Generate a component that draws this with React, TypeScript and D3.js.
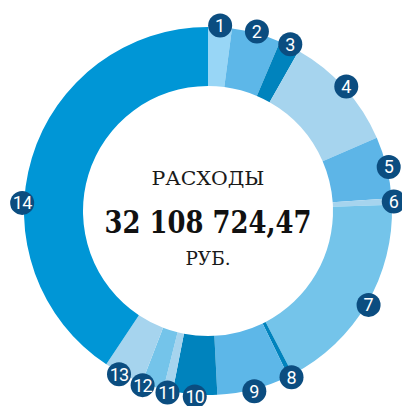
import React from "react";
import * as d3 from "d3";

// Shares of total expenses (percent)
const labels = ["1", "2", "3", "4", "5", "6", "7", "8", "9", "10", "11", "12", "13", "14"];
const shares = [2.08, 4.31, 1.81, 10.28, 5.42, 0.56, 17.92, 0.42, 6.39, 3.89, 0.83, 1.94, 3.47, 40.68];
const colors = [
  "#98d6f6", "#5db7e8", "#0083bd", "#a6d4ee", "#5db5e7", "#a6d4ee", "#74c4ea",
  "#0083bd", "#5db7e8", "#0083bd", "#a6d4ee", "#74c4ea", "#a6d4ee", "#0096d6",
];
const titleText = "РАСХОДЫ";
const totalText = "32 108 724,47";
const unitText = "РУБ.";

const W = 402;
const H = 406;
const cx = 208;
const cy = 211;
const outerR = 184;
const innerR = 125;
const badgeR = 12;
const badgeOrbit = 186;
const minSep = (8 * Math.PI) / 180;
const labelOverride: Record<string, number> = { "14": (272.5 * Math.PI) / 180 };

export default function App() {
  const data = labels.map((l, i) => ({ label: l, value: shares[i], color: colors[i] }));
  const pie = d3
    .pie<any>()
    .sort(null)
    .value((d) => d.value)
    .startAngle(0)
    .endAngle(2 * Math.PI);
  const arcs = pie(data);
  const arc = d3.arc<any>().innerRadius(innerR).outerRadius(outerR);

  // badge angles: segment mid-angle, pushed apart when too close
  const angles: number[] = [];
  arcs.forEach((a, i) => {
    let ang = (a.startAngle + a.endAngle) / 2;
    if (i > 0 && ang - angles[i - 1] < minSep) ang = angles[i - 1] + minSep;
    if (labelOverride[a.data.label] !== undefined) ang = labelOverride[a.data.label];
    angles.push(ang);
  });

  return (
    <svg
      width={W}
      height={H}
      style={{ position: "absolute", left: 0, top: 0, background: "#fff" }}
    >
      <g transform={`translate(${cx},${cy})`}>
        {arcs.map((a, i) => (
          <path key={i} d={arc(a) as string} fill={a.data.color} />
        ))}
        {arcs.map((a, i) => {
          const x = badgeOrbit * Math.sin(angles[i]);
          const y = -badgeOrbit * Math.cos(angles[i]);
          return (
            <g key={"b" + i} transform={`translate(${x},${y})`}>
              <circle r={badgeR} fill="#0b4d80" />
              <text
                y={6.5}
                textAnchor="middle"
                fill="#fff"
                fontFamily="Roboto, 'Noto Sans', sans-serif"
                fontSize={18}
                letterSpacing={a.data.label.length > 1 ? -0.8 : 0}
              >
                {a.data.label}
              </text>
            </g>
          );
        })}
        <text
          x={0}
          y={-26}
          textAnchor="middle"
          fill="#1a1a1a"
          fontFamily="'DejaVu Serif', serif"
          fontSize={19}
          textLength={113}
          lengthAdjust="spacingAndGlyphs"
        >
          {titleText}
        </text>
        <text
          x={0}
          y={22}
          textAnchor="middle"
          fill="#111"
          fontFamily="'DejaVu Serif', serif"
          fontWeight="bold"
          fontSize={31}
          textLength={207}
          lengthAdjust="spacingAndGlyphs"
        >
          {totalText}
        </text>
        <text
          x={0}
          y={54}
          textAnchor="middle"
          fill="#1a1a1a"
          fontFamily="'DejaVu Serif', serif"
          fontSize={19}
          textLength={45}
          lengthAdjust="spacingAndGlyphs"
        >
          {unitText}
        </text>
      </g>
    </svg>
  );
}
